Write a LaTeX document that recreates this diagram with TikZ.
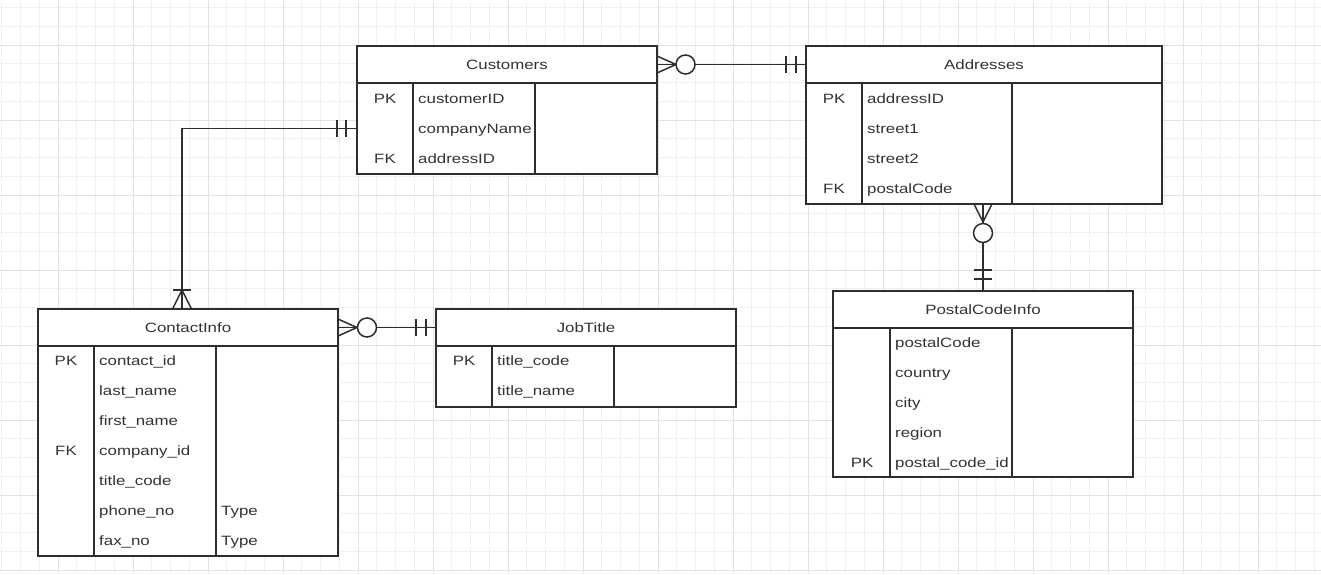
\documentclass[tikz,border=0pt]{standalone}
\usepackage{fontspec}
\setmainfont{Liberation Sans}[FakeStretch=1.25]
\usetikzlibrary{calc}
\definecolor{ink}{HTML}{2E2E2E}
\definecolor{txt}{HTML}{333333}
\definecolor{gridmin}{HTML}{EFEFEF}
\definecolor{gridmaj}{HTML}{E2E2E2}
\begin{document}
\begin{tikzpicture}[x=1pt,y=-1pt,
  hdr/.style={draw=ink, line width=1.6pt, fill=white, minimum height=37pt, anchor=north west, inner sep=0pt, outer sep=0pt, font=\fontsize{13.5}{16}\selectfont, text=txt},
  bodybox/.style={draw=ink, line width=1.6pt, fill=white, anchor=north west, inner sep=0pt, outer sep=0pt},
  divider/.style={draw=ink, line width=1.6pt},
  keytxt/.style={font=\fontsize{13.5}{16}\selectfont, text=txt, inner sep=0pt, anchor=mid, yshift=-2.5pt},
  fldtxt/.style={font=\fontsize{13.5}{16}\selectfont, text=txt, inner sep=0pt, anchor=mid west, yshift=-2.5pt},
  rel/.style={draw=ink, line width=1.5pt},
]
\useasboundingbox (0,0) rectangle (1321,574);
\fill[white] (0,0) rectangle (1321,574);
% grid
\foreach \x in {1.75,20.5,...,1321} \draw[gridmin, line width=0.8pt] (\x,0) -- (\x,574);
\foreach \y in {7.5,26.25,...,574} \draw[gridmin, line width=0.8pt] (0,\y) -- (1321,\y);
\foreach \x in {58,133,...,1321} \draw[gridmaj, line width=0.9pt] (\x,0) -- (\x,574);
\foreach \y in {45,120,...,574} \draw[gridmaj, line width=0.9pt] (0,\y) -- (1321,\y);

% ---------- Customers ----------
\node[bodybox, minimum width=300pt, minimum height=91pt] (custb) at (357,83) {};
\node[hdr, minimum width=300pt] (custh) at (357,46) {Customers};
\draw[divider] ([xshift=56pt]custb.north west) -- ([xshift=56pt]custb.south west);
\draw[divider] ([xshift=178pt]custb.north west) -- ([xshift=178pt]custb.south west);
\node[keytxt] (ck1) at (385,98) {PK};
\node[fldtxt] (cf1) at (418,98) {customerID};
\node[fldtxt] (cf2) at (418,128) {companyName};
\node[keytxt] (ck3) at (385,158) {FK};
\node[fldtxt] (cf3) at (418,158) {addressID};

% ---------- Addresses ----------
\node[bodybox, minimum width=356pt, minimum height=121pt] (addrb) at (806,83) {};
\node[hdr, minimum width=356pt] (addrh) at (806,46) {Addresses};
\draw[divider] ([xshift=56pt]addrb.north west) -- ([xshift=56pt]addrb.south west);
\draw[divider] ([xshift=206pt]addrb.north west) -- ([xshift=206pt]addrb.south west);
\node[keytxt] (ak1) at (834,98) {PK};
\node[fldtxt] (af1) at (867,98) {addressID};
\node[fldtxt] (af2) at (867,128) {street1};
\node[fldtxt] (af3) at (867,158) {street2};
\node[keytxt] (ak4) at (834,188) {FK};
\node[fldtxt] (af4) at (867,188) {postalCode};

% ---------- PostalCodeInfo ----------
\node[bodybox, minimum width=300pt, minimum height=149pt] (pcib) at (833,328) {};
\node[hdr, minimum width=300pt] (pcih) at (833,291) {PostalCodeInfo};
\draw[divider] ([xshift=57pt]pcib.north west) -- ([xshift=57pt]pcib.south west);
\draw[divider] ([xshift=179pt]pcib.north west) -- ([xshift=179pt]pcib.south west);
\node[fldtxt] (pf1) at (895,342) {postalCode};
\node[fldtxt] (pf2) at (895,372) {country};
\node[fldtxt] (pf3) at (895,402) {city};
\node[fldtxt] (pf4) at (895,432) {region};
\node[keytxt] (pk5) at (862,462) {PK};
\node[fldtxt] (pf5) at (895,462) {postal\_code\_id};

% ---------- ContactInfo ----------
\node[bodybox, minimum width=300pt, minimum height=210pt] (ctib) at (38,346) {};
\node[hdr, minimum width=300pt] (ctih) at (38,309) {ContactInfo};
\draw[divider] ([xshift=56pt]ctib.north west) -- ([xshift=56pt]ctib.south west);
\draw[divider] ([xshift=178pt]ctib.north west) -- ([xshift=178pt]ctib.south west);
\node[keytxt] (tk1) at (66,360) {PK};
\node[fldtxt] (tf1) at (99,360) {contact\_id};
\node[fldtxt] (tf2) at (99,390) {last\_name};
\node[fldtxt] (tf3) at (99,420) {first\_name};
\node[keytxt] (tk4) at (66,450) {FK};
\node[fldtxt] (tf4) at (99,450) {company\_id};
\node[fldtxt] (tf5) at (99,480) {title\_code};
\node[fldtxt] (tf6) at (99,510) {phone\_no};
\node[fldtxt] (tt6) at (221,510) {Type};
\node[fldtxt] (tf7) at (99,540) {fax\_no};
\node[fldtxt] (tt7) at (221,540) {Type};

% ---------- JobTitle ----------
\node[bodybox, minimum width=300pt, minimum height=61pt] (jobb) at (436,346) {};
\node[hdr, minimum width=300pt] (jobh) at (436,309) {JobTitle};
\draw[divider] ([xshift=56pt]jobb.north west) -- ([xshift=56pt]jobb.south west);
\draw[divider] ([xshift=178pt]jobb.north west) -- ([xshift=178pt]jobb.south west);
\node[keytxt] (jk1) at (464,360) {PK};
\node[fldtxt] (jf1) at (497,360) {title\_code};
\node[fldtxt] (jf2) at (497,390) {title\_name};

% ---------- Customers -- Addresses ----------
\draw[rel] (custh.east) -- (addrh.west);
\draw[rel] ([yshift=8.5pt]custh.east) -- ([xshift=19pt]custh.east) -- ([yshift=-8.5pt]custh.east);
\draw[rel, fill=white] ([xshift=28.5pt]custh.east) circle[radius=9.5pt];
\draw[rel] ([xshift=-20pt,yshift=8.5pt]addrh.west) -- ([xshift=-20pt,yshift=-8.5pt]addrh.west);
\draw[rel] ([xshift=-10pt,yshift=8.5pt]addrh.west) -- ([xshift=-10pt,yshift=-8.5pt]addrh.west);

% ---------- Addresses -- PostalCodeInfo ----------
\coordinate (ap) at (addrb.south -| pcih.north);
\draw[rel] (ap) -- (pcih.north);
\draw[rel] ([xshift=-9pt]ap) -- ([yshift=-18pt]ap) -- ([xshift=9pt]ap);
\draw[rel, fill=white] ([yshift=-29pt]ap) circle[radius=9.5pt];
\draw[rel] ([xshift=-9pt,yshift=21pt]pcih.north) -- ([xshift=9pt,yshift=21pt]pcih.north);
\draw[rel] ([xshift=-9pt,yshift=12pt]pcih.north) -- ([xshift=9pt,yshift=12pt]pcih.north);

% ---------- Customers -- ContactInfo ----------
\coordinate (ctop) at ([xshift=-6pt]ctih.north);
\draw[rel] (custb.west) -| (ctop);
\draw[rel] ([xshift=-20pt,yshift=8.5pt]custb.west) -- ([xshift=-20pt,yshift=-8.5pt]custb.west);
\draw[rel] ([xshift=-11pt,yshift=8.5pt]custb.west) -- ([xshift=-11pt,yshift=-8.5pt]custb.west);
\draw[rel] ([xshift=-9.5pt]ctop) -- ([yshift=19pt]ctop) -- ([xshift=9.5pt]ctop);
\draw[rel] ([xshift=-9pt,yshift=19pt]ctop) -- ([xshift=9pt,yshift=19pt]ctop);

% ---------- ContactInfo -- JobTitle ----------
\draw[rel] (ctih.east) -- (jobh.west);
\draw[rel] ([yshift=8.5pt]ctih.east) -- ([xshift=19pt]ctih.east) -- ([yshift=-8.5pt]ctih.east);
\draw[rel, fill=white] ([xshift=29pt]ctih.east) circle[radius=9.5pt];
\draw[rel] ([xshift=-20pt,yshift=8.5pt]jobh.west) -- ([xshift=-20pt,yshift=-8.5pt]jobh.west);
\draw[rel] ([xshift=-10pt,yshift=8.5pt]jobh.west) -- ([xshift=-10pt,yshift=-8.5pt]jobh.west);
\end{tikzpicture}
\end{document}
